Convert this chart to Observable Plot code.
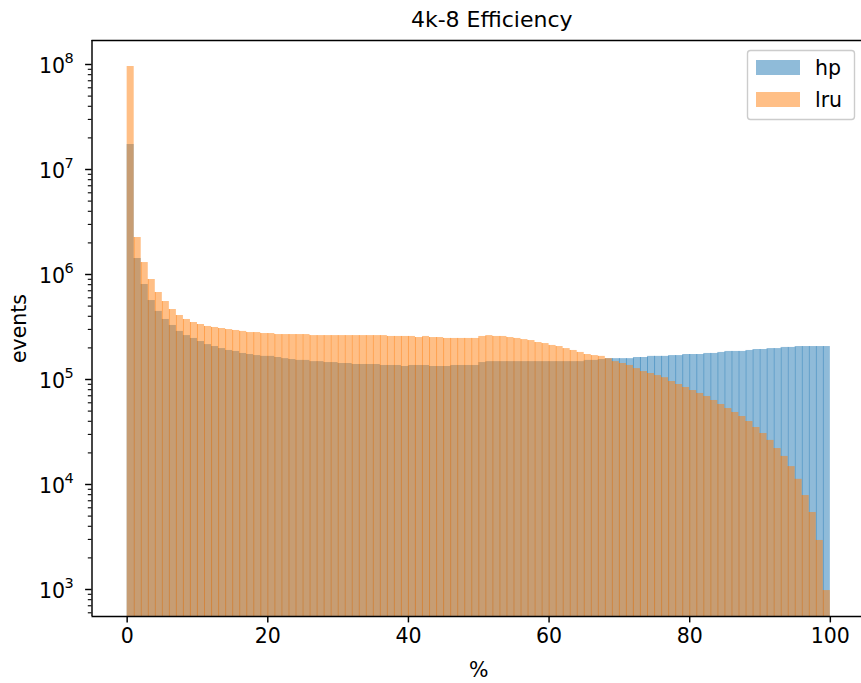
<!DOCTYPE html>
<html><head><meta charset="utf-8">
<script src="https://cdn.jsdelivr.net/npm/d3@7"></script>
<script src="https://cdn.jsdelivr.net/npm/@observablehq/plot@0.6"></script>
<style>body{margin:0;background:#fff;}</style>
</head><body><div id="chart"></div>
<script>
// ---- data ----
const binEdges = d3.range(0, 101); // 100 bins of width 1 from 0 to 100
const hp = [
  1.73e7, 1.42e6, 8.03e5, 5.65e5, 4.45e5, 3.73e5, 3.27e5, 2.87e5, 2.62e5, 2.46e5,
  2.30e5, 2.15e5, 2.06e5, 1.97e5, 1.89e5, 1.85e5, 1.77e5, 1.73e5, 1.69e5, 1.66e5,
  1.66e5, 1.62e5, 1.58e5, 1.55e5, 1.52e5, 1.52e5, 1.48e5, 1.48e5, 1.45e5, 1.45e5,
  1.42e5, 1.42e5, 1.39e5, 1.39e5, 1.39e5, 1.39e5, 1.36e5, 1.36e5, 1.36e5, 1.33e5,
  1.36e5, 1.36e5, 1.36e5, 1.33e5, 1.33e5, 1.33e5, 1.36e5, 1.36e5, 1.36e5, 1.36e5,
  1.45e5, 1.48e5, 1.48e5, 1.48e5, 1.48e5, 1.48e5, 1.48e5, 1.48e5, 1.48e5, 1.48e5,
  1.48e5, 1.48e5, 1.48e5, 1.48e5, 1.48e5, 1.52e5, 1.52e5, 1.55e5, 1.58e5, 1.58e5,
  1.58e5, 1.58e5, 1.62e5, 1.62e5, 1.66e5, 1.66e5, 1.66e5, 1.69e5, 1.69e5, 1.73e5,
  1.73e5, 1.73e5, 1.77e5, 1.77e5, 1.81e5, 1.85e5, 1.85e5, 1.85e5, 1.89e5, 1.93e5,
  1.93e5, 1.97e5, 1.97e5, 2.02e5, 2.02e5, 2.06e5, 2.06e5, 2.06e5, 2.06e5, 2.06e5
];
const lru = [
  9.57e7, 2.25e6, 1.30e6, 8.96e5, 6.74e5, 5.53e5, 4.64e5, 4.07e5, 3.73e5, 3.49e5,
  3.34e5, 3.20e5, 3.13e5, 3.06e5, 2.99e5, 2.93e5, 2.87e5, 2.80e5, 2.80e5, 2.74e5,
  2.74e5, 2.68e5, 2.68e5, 2.68e5, 2.68e5, 2.68e5, 2.62e5, 2.62e5, 2.62e5, 2.62e5,
  2.62e5, 2.62e5, 2.62e5, 2.62e5, 2.62e5, 2.62e5, 2.62e5, 2.57e5, 2.57e5, 2.57e5,
  2.57e5, 2.51e5, 2.57e5, 2.51e5, 2.51e5, 2.46e5, 2.46e5, 2.46e5, 2.46e5, 2.46e5,
  2.57e5, 2.62e5, 2.57e5, 2.57e5, 2.51e5, 2.46e5, 2.40e5, 2.35e5, 2.25e5, 2.20e5,
  2.11e5, 2.06e5, 1.97e5, 1.89e5, 1.81e5, 1.73e5, 1.69e5, 1.66e5, 1.58e5, 1.48e5,
  1.42e5, 1.36e5, 1.27e5, 1.19e5, 1.14e5, 1.09e5, 1.04e5, 9.57e4, 8.96e4, 8.39e4,
  7.85e4, 7.36e4, 6.89e4, 6.31e4, 5.78e4, 5.29e4, 4.85e4, 4.44e4, 3.98e4, 3.49e4,
  3.06e4, 2.63e4, 2.20e4, 1.85e4, 1.48e4, 1.12e4, 7.85e3, 5.41e3, 2.93e3, 977
];
const seriesNames = ["hp", "lru"];
const xTicks = [0, 20, 40, 60, 80, 100];
const yTickExponents = [3, 4, 5, 6, 7, 8];
const titleText = "4k-8 Efficiency";
const xLabelText = "%";
const yLabelText = "events";

// ---- styling / layout ----
const W = 861, H = 683;
const colors = {hp: "#1f77b4", lru: "#ff7f0e"};
const yDomain = [Math.pow(10, 3 - 27/105), Math.pow(10, 8 + 24/105)];
const xDomain = [-5, 105];
const mL = 91.5, mT = 40, mB = 67;
const FS = 20.5;

const rows = d3.range(100).map(i => ({x1: binEdges[i], x2: binEdges[i+1], hp: hp[i], lru: lru[i]}));
// interior bar seams (where adjacent bars overlap in antialiasing)
const seams = d3.range(1, 100).map(i => ({x: binEdges[i], hp: Math.min(hp[i-1], hp[i]), lru: Math.min(lru[i-1], lru[i])}));
const minorTicks = [];
for (let k = 2; k <= 8; k++) for (let m = 2; m <= 9; m++) {
  const v = m * Math.pow(10, k);
  if (v > yDomain[0] && v < yDomain[1]) minorTicks.push(v);
}
const majorTicks = yTickExponents.map(e => Math.pow(10, e));

const plot = Plot.plot({
  width: W, height: H,
  marginLeft: mL, marginTop: mT, marginBottom: mB, marginRight: 0,
  style: {fontFamily: "DejaVu Sans", fontSize: FS + "px", color: "black", background: "white"},
  x: {domain: xDomain, range: [mL, 865]},
  y: {type: "log", domain: yDomain},
  marks: [
    Plot.rectY(rows, {x1: "x1", x2: "x2", y1: yDomain[0], y2: "hp", fill: colors.hp, fillOpacity: 0.5, inset: 0}),
    Plot.ruleX(seams, {x: "x", y1: yDomain[0], y2: "hp", stroke: colors.hp, strokeOpacity: 0.45, strokeWidth: 1}),
    Plot.rectY(rows, {x1: "x1", x2: "x2", y1: yDomain[0], y2: "lru", fill: colors.lru, fillOpacity: 0.5, inset: 0}),
    Plot.ruleX(seams, {x: "x", y1: yDomain[0], y2: "lru", stroke: colors.lru, strokeOpacity: 0.45, strokeWidth: 1}),
    Plot.ruleY([yDomain[1]], {stroke: "black", strokeWidth: 1.46}),
    Plot.ruleY([yDomain[0]], {stroke: "black", strokeWidth: 1.46}),
    Plot.ruleX([xDomain[0]], {stroke: "black", strokeWidth: 1.46}),
    Plot.axisX({ticks: xTicks, tickSize: 6.4, tickPadding: 6, strokeWidth: 1.46, stroke: "black", label: null, fill: "black", fontSize: FS, tickFormat: d => String(d)}),
    Plot.axisY({ticks: majorTicks, tickSize: 6.4, strokeWidth: 1.46, stroke: "black", label: null, tickFormat: () => ""}),
    Plot.axisY({ticks: minorTicks, tickSize: 3.7, strokeWidth: 1.1, stroke: "black", label: null, tickFormat: () => ""}),
    Plot.text(yTickExponents, {frameAnchor: "left", y: e => Math.pow(10, e), text: () => "10", textAnchor: "end", lineAnchor: "middle", dx: -27, dy: 1.5, fontSize: FS, fill: "black"}),
    Plot.text(yTickExponents, {frameAnchor: "left", y: e => Math.pow(10, e), text: e => String(e), textAnchor: "start", lineAnchor: "middle", dx: -27.5, dy: -6.5, fontSize: 14.5, fill: "black"}),
    Plot.text([titleText], {frameAnchor: "top", textAnchor: "middle", lineAnchor: "top", dx: 15, dy: -29, fontSize: 22, fill: "black"}),
    Plot.text([xLabelText], {frameAnchor: "bottom", textAnchor: "middle", lineAnchor: "bottom", dx: 2, dy: 60, fontSize: FS, fill: "black"}),
    Plot.text([yLabelText], {frameAnchor: "left", textAnchor: "middle", lineAnchor: "middle", dx: -73, rotate: -90, fontSize: FS, fill: "black"})
  ]
});
document.getElementById("chart").appendChild(plot);

// legend (matplotlib-style box in the upper right)
const svg = d3.select(plot.tagName.toLowerCase() === "svg" ? plot : plot.querySelector("svg"));
const lg = svg.append("g").attr("font-family", "DejaVu Sans").attr("font-size", FS).attr("text-anchor", "start");
lg.append("rect").attr("x", 747.5).attr("y", 50.5).attr("width", 107).attr("height", 69).attr("rx", 3)
  .attr("fill", "white").attr("fill-opacity", 0.8).attr("stroke", "#cccccc").attr("stroke-width", 1.4);
seriesNames.forEach((name, i) => {
  const y0 = 60 + i * 32;
  lg.append("rect").attr("x", 756).attr("y", y0).attr("width", 44).attr("height", 15)
    .attr("fill", colors[name]).attr("fill-opacity", 0.5);
  lg.append("text").attr("x", 815).attr("y", y0 + 14.5).attr("fill", "black").attr("text-anchor", "start").text(name);
});
</script>
</body></html>
